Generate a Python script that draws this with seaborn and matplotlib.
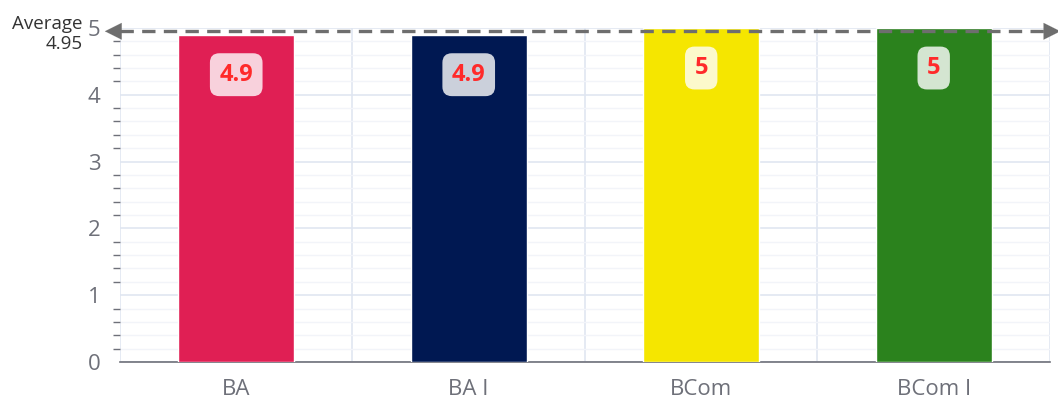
import matplotlib
matplotlib.use("Agg")
import matplotlib.pyplot as plt
import seaborn as sns
import pandas as pd
from matplotlib.ticker import MultipleLocator

categories = ["BA", "BA I", "BCom", "BCom I"]
values = [4.9, 4.9, 5.0, 5.0]
colors = ["#E01F54", "#001852", "#F5E600", "#2B821D"]
average = 4.95

df = pd.DataFrame({"programme": categories, "score": values})

sns.set_style("white")
plt.rcParams["font.family"] = ["Open Sans", "DejaVu Sans"]

fig = plt.figure(figsize=(10.58, 4.09), dpi=100)
ax = fig.add_axes([0.1134, 0.115, 0.879, 0.8167])

sns.barplot(data=df, x="programme", y="score", hue="programme", palette=colors,
            width=0.5, saturation=1, legend=False, ax=ax, zorder=3)

ax.set_ylim(0, 5)
ax.set_xlim(-0.5, 3.5)
ax.yaxis.set_major_locator(MultipleLocator(1))
ax.yaxis.set_minor_locator(MultipleLocator(0.2))
ax.grid(which="major", axis="y", color="#E0E6F1", lw=1.2, zorder=0)
ax.grid(which="minor", axis="y", color="#F2F4F9", lw=1, zorder=0)
# category boundaries
ax.set_xticks([0.5, 1.5, 2.5], minor=True)
ax.grid(which="minor", axis="x", color="#E0E6F1", lw=1.2, zorder=0)
ax.axvline(-0.5, color="#E0E6F1", lw=1.2, zorder=0)
ax.axvline(3.5, color="#E0E6F1", lw=1.2, zorder=0)

for s in ["top", "right", "left"]:
    ax.spines[s].set_visible(False)
ax.spines["bottom"].set_color("#6E7079")
ax.spines["bottom"].set_linewidth(1.2)

ax.tick_params(axis="x", which="major", length=6, color="#6E7079", labelsize=16,
               labelcolor="#6E7079", pad=6, direction="out")
ax.tick_params(axis="x", which="minor", length=0)
ax.tick_params(axis="y", which="major", length=0, labelsize=16, labelcolor="#6E7079", pad=14)
ax.tick_params(axis="y", which="minor", length=5, color="#6E7079", width=1, left=True)
ax.set_xlabel("")
ax.set_ylabel("")

for i, v in enumerate(values):
    ax.text(i, v - 0.6, f"{v:g}", ha="center", va="center", fontsize=17, fontweight="bold",
            color="#FF2A2A", zorder=5,
            bbox=dict(boxstyle="round,pad=0.4,rounding_size=0.4", fc="white", ec="none", alpha=0.8))

# average mark line: dashed body, solid arrow heads at both ends
line_col = "#6E6E6E"
head = dict(arrowstyle="-|>,head_length=0.6,head_width=0.3", color=line_col,
            lw=0.1, shrinkA=0, shrinkB=0, mutation_scale=20)
ax.plot([-0.5, 3.5], [average, average], color=line_col, lw=2.4, ls=(0, (4, 2.5)),
        clip_on=False, zorder=6)
ax.annotate("", xy=(-0.565, average), xytext=(-0.44, average), arrowprops=head,
            annotation_clip=False, zorder=7)
ax.annotate("", xy=(3.545, average), xytext=(3.42, average), arrowprops=head,
            annotation_clip=False, zorder=7)
ax.text(-0.66, average - 0.04, f"Average\n{average:g}", ha="right", va="center", fontsize=13.5,
        color="#333333", linespacing=1.2)

fig.savefig("out.png", dpi=100)
